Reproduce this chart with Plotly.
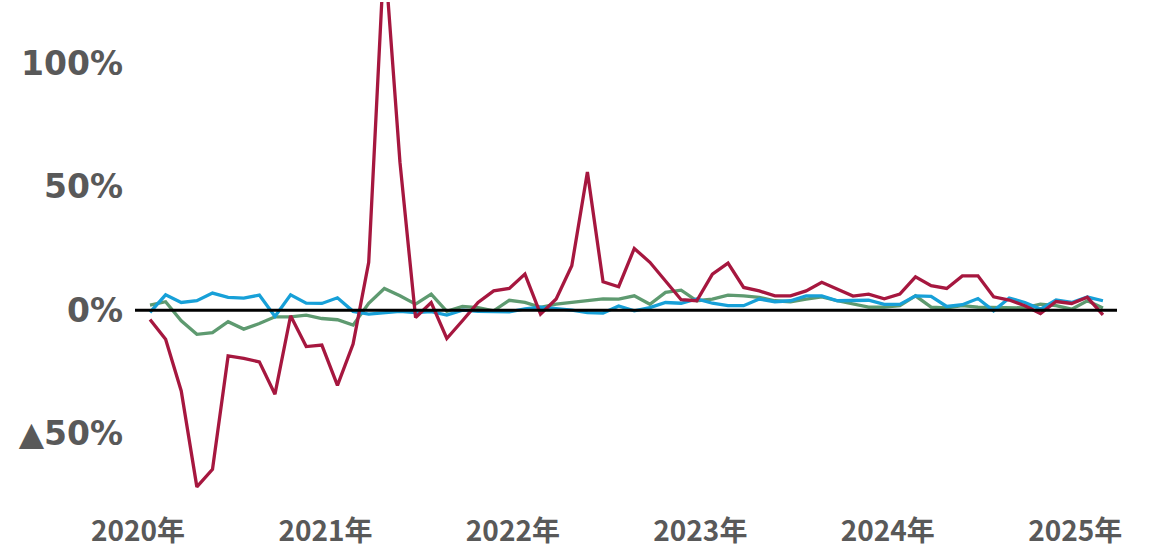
import plotly.graph_objects as go

# Monthly series, Jan 2020 - Feb 2025 (year-on-year change, %)
months = [f"{y}-{m:02d}" for y in range(2020, 2026) for m in range(1, 13)][:62]

red = [-3.8, -11.8, -32.8, -71.7, -64.6, -18.6, -19.6, -21.0, -34.1, -2.3, -14.8, -14.2,
       -30.5, -13.8, 19.4, 146.0, 60.0, -3.0, 3.1, -11.5, -4.3, 3.1, 7.8, 8.8,
       14.6, -1.6, 4.5, 18.0, 56.0, 11.5, 9.5, 25.0, 19.4, 11.9, 4.2, 3.8,
       14.6, 19.1, 9.2, 7.8, 5.8, 5.8, 7.8, 11.3, 8.5, 5.7, 6.5, 4.6,
       6.5, 13.5, 9.9, 8.8, 13.9, 13.9, 5.4, 4.1, 1.8, -1.4, 3.5, 2.7,
       5.2, -1.9]

blue = [-0.9, 6.2, 3.1, 3.8, 6.9, 5.2, 4.9, 6.1, -2.6, 6.2, 2.8, 2.7,
        5.0, -0.5, -1.6, -1.0, -0.5, -1.0, -0.6, -2.0, 0.0, -0.5, -0.6, -0.7,
        0.5, 1.2, 0.6, 0.0, -1.0, -1.2, 1.7, -0.3, 1.0, 3.1, 2.8, 4.5,
        2.8, 1.8, 1.8, 4.5, 3.4, 3.8, 5.8, 5.8, 3.8, 3.9, 4.0, 2.3,
        2.3, 5.8, 5.6, 1.5, 2.2, 4.7, -0.3, 4.9, 3.1, 0.4, 4.1, 3.1,
        5.3, 3.8]

green = [2.0, 3.4, -4.3, -9.8, -9.1, -4.7, -7.7, -5.4, -2.7, -2.7, -2.0, -3.4,
         -3.9, -6.1, 2.8, 8.8, 5.8, 2.4, 6.5, -0.5, 1.5, 1.0, -0.3, 4.0,
         3.1, 1.1, 2.4, 3.1, 3.8, 4.6, 4.5, 5.8, 2.4, 7.2, 8.1, 3.8,
         4.5, 6.1, 5.8, 5.2, 3.8, 3.4, 4.5, 5.4, 3.8, 2.5, 1.2, 1.2,
         1.8, 5.8, 1.2, 0.9, 1.8, 1.2, 1.2, 0.9, 0.9, 2.4, 1.8, 0.4,
         3.8, 0.9]

year_labels = ["2020年", "2021年", "2022年", "2023年", "2024年", "2025年"]
y_ticks = [-50, 0, 50, 100]
y_tick_labels = ["▲50%", "0%", "50%", "100%"]

x = list(range(len(months)))
# year label positions (slightly left of January of each year)
x_tick_pos = [12 * k - 0.77 for k in range(len(year_labels))]

fig = go.Figure()
fig.add_trace(go.Scatter(x=x, y=green, mode="lines", line=dict(color="#5E9A70", width=3.3),
                         customdata=months, hoverinfo="skip"))
fig.add_trace(go.Scatter(x=x, y=blue, mode="lines", line=dict(color="#17A0D8", width=3.3),
                         customdata=months, hoverinfo="skip"))
fig.add_trace(go.Scatter(x=x, y=red, mode="lines", line=dict(color="#A6173F", width=3.3),
                         customdata=months, hoverinfo="skip"))

fig.add_shape(type="line", xref="paper", x0=0, x1=1, yref="y", y0=0, y1=0,
              line=dict(color="black", width=3), layer="above")

fig.update_layout(
    width=1153, height=549,
    margin=dict(l=135, r=36, t=2, b=54),
    paper_bgcolor="white", plot_bgcolor="white",
    showlegend=False,
    xaxis=dict(range=[-0.96, 61.9], showgrid=False, zeroline=False, showline=False,
               automargin=False,
               tickmode="array", tickvals=x_tick_pos, ticktext=year_labels,
               ticks="", ticklabelstandoff=17,
               tickfont=dict(family="Noto Sans CJK JP", size=28, color="#595959", weight="bold")),
    yaxis=dict(range=[-75, 125], showgrid=False, zeroline=False, showline=False,
               automargin=False,
               tickmode="array", tickvals=y_ticks, ticktext=y_tick_labels,
               ticks="", ticklabelstandoff=11,
               tickfont=dict(family="DejaVu Sans", size=33, color="#595959", weight="bold")),
)

fig.write_html("out.html", config={"displayModeBar": False},
               post_script="document.body.style.margin='0';document.body.style.overflow='hidden';")
